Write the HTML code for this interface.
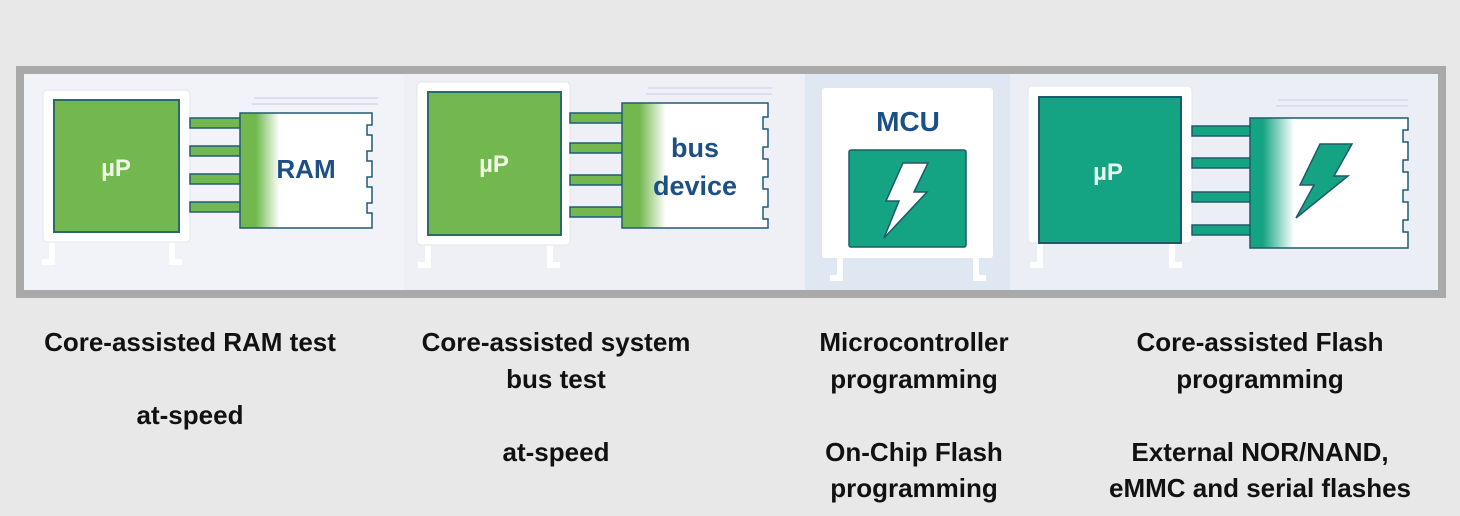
<!DOCTYPE html>
<html><head><meta charset="utf-8"><style>
body{margin:0;background:#e8e8e8;width:1460px;height:516px;overflow:hidden;position:relative;font-family:"Liberation Sans",sans-serif}
.t{position:absolute;text-align:center;font-weight:bold;font-size:26px;line-height:36.5px;color:#111;width:360px}
</style></head><body>
<svg width="1460" height="516" style="position:absolute;left:0;top:0" font-family="Liberation Sans, sans-serif">
<defs>
<linearGradient id="gg" x1="0" x2="1"><stop offset="0" stop-color="#72b84f"/><stop offset="0.12" stop-color="#72b84f"/><stop offset="0.3" stop-color="#fff"/></linearGradient>
<linearGradient id="gt" x1="0" x2="1"><stop offset="0" stop-color="#14a383"/><stop offset="0.08" stop-color="#14a383"/><stop offset="0.28" stop-color="#fff"/></linearGradient>
</defs>
<rect x="16" y="66" width="1430" height="232" fill="#a9a9a9"/>
<rect x="24" y="74" width="1414" height="216" fill="#f2f3f8"/>
<rect x="404" y="74" width="401" height="216" fill="#eef0f6"/>
<rect x="805" y="74" width="205" height="216" fill="#dfe7f2"/>
<rect x="1010" y="74" width="428" height="216" fill="#eceef5"/>

<!-- Panel 1 -->
<g>
<path d="M52 242 v20 h-10 M172 242 v20 h10" stroke="#fff" stroke-width="6" fill="none"/>
<rect x="43" y="90" width="147" height="152" rx="4" fill="#fff" stroke="#e2e4ea"/>
<rect x="54" y="100" width="125" height="132" fill="#72b84f" stroke="#2b6a6a" stroke-width="2"/>
<text x="116" y="176" fill="#eef7e0" font-size="24" font-weight="bold" text-anchor="middle">µP</text>
<path d="M254 98 h124 M252 104 h126" stroke="#dde" stroke-width="2"/>
<g fill="#72b84f" stroke="#1f5a78" stroke-width="1.5">
<rect x="190" y="118" width="60" height="10"/><rect x="190" y="146" width="60" height="10"/><rect x="190" y="174" width="60" height="10"/><rect x="190" y="202" width="60" height="10"/>
</g>
<path d="M240 113 H372 v12 h-5 v10 h5 v16 h-5 v10 h5 v16 h-5 v10 h5 v16 h-5 v10 h5 v15 H240 Z" fill="url(#gg)" stroke="#1f5a78" stroke-width="1.5"/>
<text x="306" y="178" fill="#1b4f86" font-size="26" font-weight="bold" text-anchor="middle">RAM</text>
</g>

<!-- Panel 2 -->
<g>
<path d="M428 245 v20 h-10 M550 245 v20 h10" stroke="#fff" stroke-width="6" fill="none"/>
<rect x="417" y="82" width="153" height="163" rx="4" fill="#fff" stroke="#e2e4ea"/>
<rect x="428" y="92" width="133" height="143" fill="#72b84f" stroke="#2b6a6a" stroke-width="2"/>
<text x="494" y="172" fill="#eef7e0" font-size="24" font-weight="bold" text-anchor="middle">µP</text>
<path d="M648 88 h124 M646 94 h126" stroke="#dde" stroke-width="2"/>
<g fill="#72b84f" stroke="#1f5a78" stroke-width="1.5">
<rect x="570" y="113" width="58" height="10"/><rect x="570" y="143" width="58" height="10"/><rect x="570" y="175" width="58" height="10"/><rect x="570" y="207" width="58" height="10"/>
</g>
<path d="M622 103 H768 v14 h-5 v12 h5 v18 h-5 v12 h5 v18 h-5 v12 h5 v18 h-5 v12 h5 v9 H622 Z" fill="url(#gg)" stroke="#1f5a78" stroke-width="1.5"/>
<text x="695" y="157" fill="#1b4f86" font-size="27" font-weight="bold" text-anchor="middle">bus</text>
<text x="695" y="195" fill="#1b4f86" font-size="27" font-weight="bold" text-anchor="middle">device</text>
</g>

<!-- Panel 3 -->
<g>
<path d="M840 258 v20 h-10 M976 258 v20 h10" stroke="#fff" stroke-width="6" fill="none"/>
<rect x="822" y="88" width="171" height="170" rx="3" fill="#fff"/>
<text x="908" y="131" fill="#1b4f86" font-size="28" font-weight="bold" text-anchor="middle">MCU</text>
<rect x="849" y="150" width="117" height="97" rx="2" fill="#14a383" stroke="#1f5a6a" stroke-width="1.5"/>
<path d="M903 163 L928 163 L914 192 L927 192 L884 238 L899 201 L886 201 Z" fill="#fff" stroke="#1f5a6a" stroke-width="1.5"/>
</g>

<!-- Panel 4 -->
<g>
<path d="M1040 243 v22 h-10 M1172 243 v22 h10" stroke="#fff" stroke-width="6" fill="none"/>
<rect x="1028" y="86" width="164" height="157" rx="4" fill="#fff" stroke="#e2e4ea"/>
<rect x="1039" y="97" width="142" height="146" fill="#14a383" stroke="#1f5a6a" stroke-width="2"/>
<text x="1108" y="180" fill="#e6f6f0" font-size="24" font-weight="bold" text-anchor="middle">µP</text>
<path d="M1278 100 h130 M1276 106 h132" stroke="#dde" stroke-width="2"/>
<g fill="#14a383" stroke="#1f5a6a" stroke-width="1.5">
<rect x="1192" y="126" width="60" height="10"/><rect x="1192" y="158" width="60" height="10"/><rect x="1192" y="192" width="60" height="10"/><rect x="1192" y="225" width="60" height="10"/>
</g>
<path d="M1250 118 H1408 v12 h-5 v12 h5 v18 h-5 v12 h5 v18 h-5 v12 h5 v18 h-5 v12 h5 v16 H1250 Z" fill="url(#gt)" stroke="#1f5a6a" stroke-width="1.5"/>
<path d="M1320 144 L1352 144 L1334 176 L1348 176 L1296 218 L1314 185 L1300 185 Z" fill="#14a383" stroke="#1f5a6a" stroke-width="1.5"/>
</g>
</svg>
<div class="t" style="left:10px;top:324px">Core-assisted RAM test<br><br>at-speed</div>
<div class="t" style="left:376px;top:324px">Core-assisted system<br>bus test<br><br>at-speed</div>
<div class="t" style="left:734px;top:324px">Microcontroller<br>programming<br><br>On-Chip Flash<br>programming</div>
<div class="t" style="left:1080px;top:324px">Core-assisted Flash<br>programming<br><br>External NOR/NAND,<br>eMMC and serial flashes</div>
</body></html>
